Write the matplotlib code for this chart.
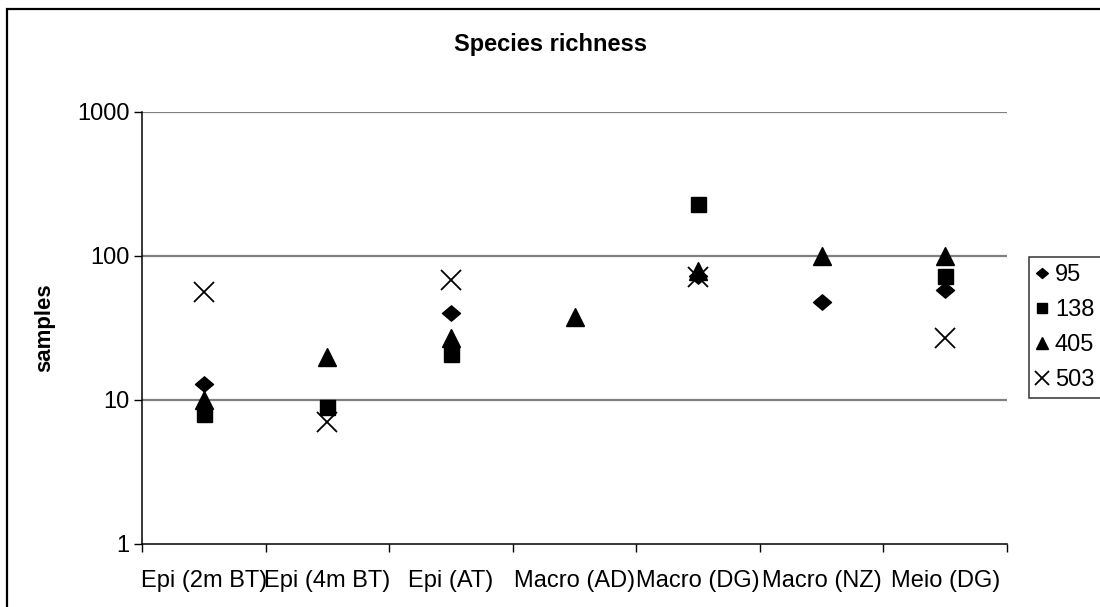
import numpy as np
import matplotlib.pyplot as plt
from matplotlib.path import Path
from matplotlib.patches import Rectangle

plt.rcParams['font.family'] = ['Liberation Sans', 'DejaVu Sans']

categories = ['Epi (2m BT)', 'Epi (4m BT)', 'Epi (AT)', 'Macro (AD)',
              'Macro (DG)', 'Macro (NZ)', 'Meio (DG)']
s95 = [13, np.nan, 40, np.nan, 73, 48, 58]
s138 = [8, 9, 21, np.nan, 231, np.nan, 73]
s405 = [10, 20, 27, 38, 79, 100, 100]
s503 = [56, 7, 68, np.nan, 71, np.nan, 27]

diamond = Path([(-1, 0), (0, 0.85), (1, 0), (0, -0.85), (-1, 0)],
               [Path.MOVETO, Path.LINETO, Path.LINETO, Path.LINETO, Path.CLOSEPOLY])

fig = plt.figure(figsize=(11, 6.07), dpi=100)
# outer chart frame (cut at right and bottom like the source)
fig.patches.append(Rectangle((7 / 1100, -0.1), 1.2, 1 - 9 / 607 + 0.1,
                             transform=fig.transFigure, fill=False,
                             edgecolor='black', linewidth=1.6))

ax = fig.add_axes([142 / 1100, 1 - 544 / 607, 865 / 1100, 432 / 607])
x = np.arange(len(categories))

ax.plot(x, s95, linestyle='none', marker=diamond, ms=13, color='black', label='95')
ax.plot(x, s138, linestyle='none', marker='s', ms=10.8, color='black', label='138')
ax.plot(x, s405, linestyle='none', marker='^', ms=12.5, color='black', label='405')
ax.plot(x, s503, linestyle='none', marker='x', ms=15, mew=1.3, color='black', label='503')

ax.set_yscale('log')
ax.set_ylim(1, 1000)
ax.set_xlim(-0.5, len(categories) - 0.5)
ax.set_yticks([1, 10, 100, 1000])
ax.set_yticklabels(['1', '10', '100', '1000'])
ax.yaxis.set_minor_locator(plt.NullLocator())
for v in [10, 100, 1000]:
    ax.axhline(v, color='#808080', linewidth=1.6, zorder=0)

ax.set_xticks(np.arange(-0.5, len(categories)))
ax.set_xticklabels([])
ax.set_xticks(x, minor=True)
ax.set_xticklabels(categories, minor=True)
ax.tick_params(axis='x', which='major', length=6, width=1, direction='out')
ax.tick_params(axis='x', which='minor', length=0, pad=19, labelsize=17)
ax.tick_params(axis='y', length=6, width=1, labelsize=17, pad=3)

for side in ['top', 'right']:
    ax.spines[side].set_visible(False)
ax.spines['left'].set_linewidth(1.1)
ax.spines['bottom'].set_linewidth(1.1)

ax.set_ylabel('samples', fontsize=16, fontweight='bold')
ax.yaxis.set_label_coords((55 - 142) / 865, 0.5)
fig.text(550 / 1100, 1 - 45 / 607, 'Species richness', ha='center', va='center',
         fontsize=17, fontweight='bold')

leg = ax.legend(loc='upper left', bbox_to_anchor=(1029 / 1100, 1 - 257 / 607),
                bbox_transform=fig.transFigure, frameon=True, fancybox=False,
                fontsize=17, markerscale=0.65, handlelength=0.5, handletextpad=0.3,
                borderpad=0.3, labelspacing=0.55, borderaxespad=0)
leg.get_frame().set_edgecolor('black')
leg.get_frame().set_linewidth(1.1)

fig.savefig('out.png', dpi=100)
